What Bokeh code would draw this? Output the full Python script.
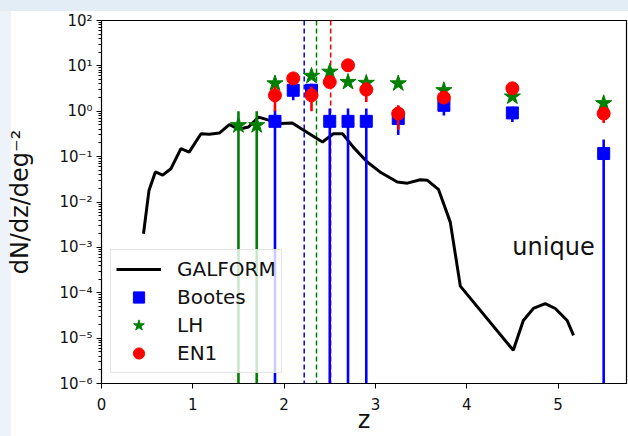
from bokeh.plotting import figure
from bokeh.models import (FixedTicker, CustomJSTickFormatter, Legend, LegendItem,
                          Span, Label, ColumnDataSource)
from bokeh.embed import file_html
from bokeh.resources import INLINE

# GALFORM model prediction, dN/dz per square degree
galform_z = [0.46, 0.52, 0.59, 0.67, 0.76, 0.87, 0.96, 1.09, 1.18, 1.29, 1.40, 1.50,
             1.61, 1.72, 1.85, 1.96, 2.09, 2.18, 2.42, 2.54, 2.64, 2.76, 2.91, 3.05,
             3.24, 3.35, 3.49, 3.57, 3.69, 3.82, 3.93, 4.51, 4.62, 4.73, 4.86, 4.97,
             5.10, 5.17]
galform_n = [2.0e-3, 1.8e-2, 4.6e-2, 3.9e-2, 5.4e-2, 0.15, 0.126, 0.32, 0.31, 0.33,
             0.51, 0.40, 0.45, 0.74, 0.62, 0.54, 0.55, 0.42, 0.21, 0.32, 0.32, 0.16,
             0.076, 0.046, 0.0275, 0.026, 0.031, 0.030, 0.019, 3.6e-3, 1.4e-4, 5.4e-6,
             2.45e-5, 4.5e-5, 5.75e-5, 4.5e-5, 2.45e-5, 1.15e-5]

# Field measurements with asymmetric errors
bootes_z = [1.9, 2.1, 2.3, 2.5, 2.7, 2.9, 3.25, 3.75, 4.5, 5.5]
bootes_n = [0.60, 2.9, 2.9, 0.60, 0.60, 0.60, 0.69, 1.35, 0.92, 0.117]
bootes_lo = [0.60, 1.15, 1.15, 0.60, 0.60, 0.60, 0.39, 0.54, 0.34, 0.117]
bootes_hi = [0.45, 1.15, 1.15, 0.55, 0.55, 0.55, 0.60, 0.90, 0.34, 0.12]

lh_z = [1.5, 1.7, 1.9, 2.3, 2.5, 2.7, 2.9, 3.25, 3.75, 4.5, 5.5]
lh_n = [0.49, 0.49, 4.1, 6.0, 7.4, 4.4, 4.2, 4.1, 2.9, 2.1, 1.5]
lh_lo = [0.49, 0.49, 0.5, 0.6, 0.7, 0.5, 0.5, 0.5, 0.3, 0.2, 0.15]
lh_hi = [0.51, 0.51, 0.5, 0.6, 0.7, 0.5, 0.5, 0.5, 0.3, 0.2, 0.15]

en1_z = [1.9, 2.1, 2.3, 2.5, 2.7, 2.9, 3.25, 3.75, 4.5, 5.5]
en1_n = [2.25, 5.3, 2.25, 4.4, 10.3, 3.0, 0.89, 2.0, 3.2, 0.89]
en1_lo = [1.25, 0.5, 1.25, 0.5, 1.0, 1.4, 0.50, 0.4, 0.4, 0.34]
en1_hi = [1.25, 0.5, 1.25, 0.5, 1.0, 1.4, 0.46, 0.4, 0.4, 0.34]

# median redshift of each field
median_z = [2.22, 2.355, 2.51]
median_colors = ["#0000ff", "#008000", "#ff0000"]

X_MIN, X_MAX = 0.0, 5.75
Y_EXP = list(range(-6, 3))
Y_MIN, Y_MAX = 10.0 ** Y_EXP[0], 10.0 ** Y_EXP[-1]

FONT = "DejaVu Sans"
TEXT = "#111111"

p = figure(width=628, height=436, x_range=(X_MIN, X_MAX), y_range=(Y_MIN, Y_MAX),
           y_axis_type="log", output_backend="svg", toolbar_location=None,
           min_border_left=101, min_border_right=2, min_border_top=20,
           min_border_bottom=53)
p.border_fill_color = None
p.styles = {
    "background": "linear-gradient(to bottom, #e3edf6 0px, #e3edf6 11px, rgba(255,255,255,0) 11px),"
                  "linear-gradient(to right, #edf3f9 0px, #edf3f9 11px, #ffffff 11px)"
}
p.background_fill_color = "white"
p.outline_line_color = "black"
p.outline_line_width = 1.2
p.grid.grid_line_color = None

# axes
p.xaxis.ticker = FixedTicker(ticks=[0, 1, 2, 3, 4, 5])
p.yaxis.ticker = FixedTicker(
    ticks=[10.0 ** e for e in Y_EXP],
    minor_ticks=[m * 10.0 ** e for e in Y_EXP[:-1] for m in range(2, 10)])
p.yaxis.formatter = CustomJSTickFormatter(code="""
    const sup = {"-": "\u207b", "0": "\u2070", "1": "\u00b9", "2": "\u00b2", "3": "\u00b3",
                 "4": "\u2074", "5": "\u2075", "6": "\u2076", "7": "\u2077", "8": "\u2078", "9": "\u2079"};
    const e = Math.round(Math.log10(tick));
    return "10" + String(e).split("").map(c => sup[c]).join("");
""")
for ax in (p.xaxis, p.yaxis):
    ax.axis_line_color = "black"
    ax.major_tick_line_color = "black"
    ax.minor_tick_line_color = "black"
    ax.major_tick_in = 0
    ax.major_tick_out = 5
    ax.minor_tick_in = 0
    ax.minor_tick_out = 3
    ax.major_label_text_font = FONT
    ax.major_label_text_font_size = "15px"
    ax.major_label_text_color = TEXT
    ax.axis_label_text_font = FONT
    ax.axis_label_text_font_style = "normal"
    ax.axis_label_text_color = TEXT
    ax.axis_label_text_font_size = "24px"
p.xaxis.minor_tick_line_color = None
p.xaxis.major_label_standoff = 9
p.xaxis.axis_label = "z"
p.xaxis.axis_label_standoff = -7
p.yaxis.major_label_standoff = 4
p.yaxis.axis_label = "dN/dz/deg\u207b\u00b2"
p.yaxis.axis_label_standoff = 22

# median redshift markers
for zm, c in zip(median_z, median_colors):
    p.add_layout(Span(location=zm, dimension="height", line_color=c, line_width=1.5,
                      line_dash="5 3", level="underlay"))

galform = p.line(galform_z, galform_n, line_color="black", line_width=3)


def bounds(n, lo, hi):
    lower = [v - d if v - d > 0 else Y_MIN for v, d in zip(n, lo)]
    upper = [v + d for v, d in zip(n, hi)]
    return lower, upper


def field(z, n, lo, hi, color, marker, size):
    lower, upper = bounds(n, lo, hi)
    src = ColumnDataSource(dict(z=z, n=n, lower=lower, upper=upper))
    p.segment(x0="z", y0="lower", x1="z", y1="upper", source=src,
              line_color=color, line_width=2.6)
    return p.scatter("z", "n", source=src, marker=marker, size=size,
                     fill_color=color, line_color=color)


r_bootes = field(bootes_z, bootes_n, bootes_lo, bootes_hi, "#0000ff", "square", 12)
r_lh = field(lh_z, lh_n, lh_lo, lh_hi, "#008000", "star", 17)
r_en1 = field(en1_z, en1_n, en1_lo, en1_hi, "#ff0000", "circle", 13)

p.add_layout(Label(x=4.5, y=1e-3, text="unique", text_font=FONT, text_font_size="24px",
                   text_color=TEXT, text_baseline="alphabetic"))

legend = Legend(items=[LegendItem(label="GALFORM", renderers=[galform]),
                       LegendItem(label="Bootes", renderers=[r_bootes]),
                       LegendItem(label="LH", renderers=[r_lh]),
                       LegendItem(label="EN1", renderers=[r_en1])],
                location=(9, 10), orientation="vertical")
legend.label_text_font = FONT
legend.label_text_font_size = "20px"
legend.label_text_color = TEXT
legend.glyph_width = 45
legend.glyph_height = 28
legend.label_height = 28
legend.spacing = 0
legend.padding = 5
legend.margin = 0
legend.label_standoff = 16
legend.border_line_color = "#cccccc"
legend.border_line_width = 1
legend.background_fill_color = "white"
legend.background_fill_alpha = 0.8
p.add_layout(legend)

open("out.html", "w").write(file_html(p, INLINE))
